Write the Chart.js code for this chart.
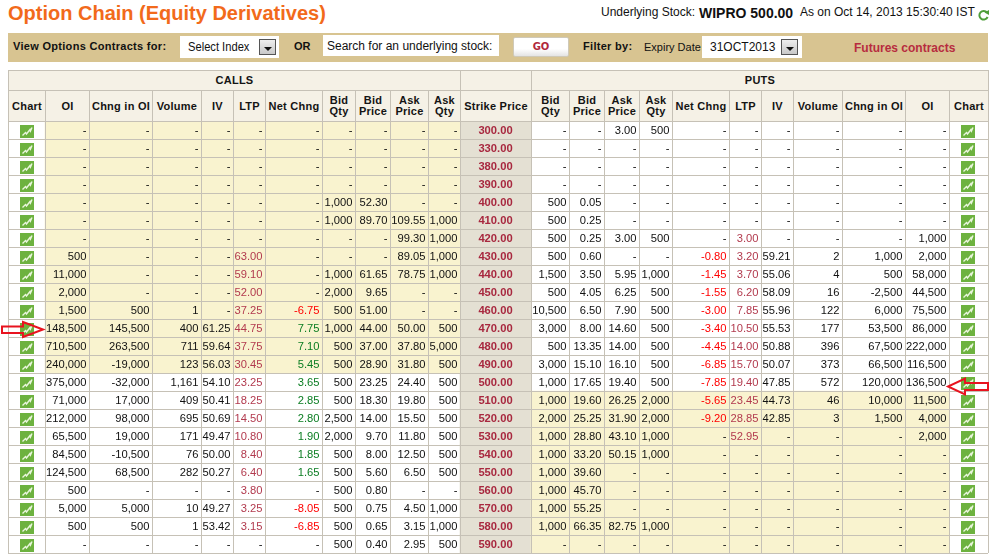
<!DOCTYPE html>
<html lang="en">
<head>
<meta charset="UTF-8" />
<title>Option Chain (Equity Derivatives)</title>
<script src="https://cdn.jsdelivr.net/npm/chart.js"></script>
<style>
  html, body { margin: 0; padding: 0; background: #fff; overflow: hidden; }
  body { width: 992px; height: 558px; position: relative; font-family: "Liberation Sans", Arial, sans-serif; color: #111; }
  .abs { position: absolute; white-space: nowrap; }
  #chartCanvas { position: absolute; left: 0; top: 0; }
  .head { position: absolute; box-sizing: border-box; background: #f5f1e6; border: 1px solid #c6c1b6; margin: 0 -1px -1px 0;
          display: flex; align-items: center; justify-content: center; text-align: center;
          font: bold 11px/11px "Liberation Sans", Arial, sans-serif; letter-spacing: .25px; color: #141414; }
  .box { position: absolute; background: #fff; box-sizing: border-box; }
  .drop { position: absolute; box-sizing: border-box; background: linear-gradient(#eee, #c8c8c8); border: 1px solid #555; }
  .drop:after { content: ""; position: absolute; left: 4px; top: 7px; border: 4px solid transparent; border-top: 4px solid #111; border-bottom: 0; }
</style>
</head>
<body>

<div class="abs" style="left:8px;top:0;font:bold 20px/27px 'Liberation Sans',Arial,sans-serif;color:#f26a1b">Option Chain (Equity Derivatives)</div>
<div class="abs" style="left:601px;top:5px;font-size:12px;line-height:14px">Underlying Stock:</div>
<div class="abs" style="left:699px;top:5px;font-weight:bold;font-size:14px;line-height:16px">WIPRO 500.00</div>
<div class="abs" style="left:800px;top:5px;font-size:12px;line-height:14px">As on Oct 14, 2013 15:30:40 IST</div>
<svg class="abs" style="left:977px;top:8px" width="13" height="14" viewBox="0 0 13 14">
  <path d="M10 4.5 A4.3 4.3 0 1 0 10.6 9" fill="none" stroke="#4f9e3a" stroke-width="2"/>
  <path d="M7.5 4.5 L12 2 L12 7 Z" fill="#4f9e3a"/>
</svg>

<div class="abs" style="left:8px;top:33px;width:980px;height:29px;background:#d8c491"></div>
<div class="abs" style="left:13px;top:39px;font:bold 11px/14px 'Liberation Sans',Arial,sans-serif;letter-spacing:.3px">View Options Contracts for:</div>
<div class="box" style="left:180px;top:36px;width:99px;height:22px"></div>
<div class="abs" style="left:188px;top:40px;font-size:12px;line-height:14px;transform:scaleX(.93);transform-origin:left">Select Index</div>
<div class="drop" style="left:259px;top:39px;width:17px;height:16px"></div>
<div class="abs" style="left:294px;top:39px;font:bold 11px/14px 'Liberation Sans',Arial,sans-serif">OR</div>
<div class="box" style="left:323px;top:35px;width:176px;height:21px"></div>
<div class="abs" style="left:327px;top:39px;font-size:12px;line-height:14px">Search for an underlying stock:</div>
<div class="box" style="left:513px;top:37px;width:56px;height:20px;border-radius:2px;background:linear-gradient(#fff 60%,#e4e4e4);border:1px solid #cfc9b8"></div>
<div class="abs" style="left:513px;top:40px;width:56px;text-align:center;font:bold 10px/14px 'DejaVu Sans',sans-serif;color:#b0283c">GO</div>
<div class="abs" style="left:583px;top:39px;font:bold 11px/14px 'Liberation Sans',Arial,sans-serif;letter-spacing:.3px">Filter by:</div>
<div class="abs" style="left:644px;top:40px;font-size:11px;line-height:14px">Expiry Date</div>
<div class="box" style="left:702px;top:36px;width:100px;height:22px"></div>
<div class="abs" style="left:710px;top:40px;font-size:12px;line-height:14px">31OCT2013</div>
<div class="drop" style="left:781px;top:39px;width:17px;height:16px"></div>
<div class="abs" style="left:854px;top:41px;font:bold 12px/14px 'Liberation Sans',Arial,sans-serif;color:#b72c3f">Futures contracts</div>

<canvas id="chartCanvas" width="992" height="558"></canvas>
<div id="heads"></div>

<svg class="abs" style="left:0;top:0;pointer-events:none" width="992" height="558">
  <path d="M2 326.5 H23 V322 L43 329.5 L23 337 V333 H2 Z" fill="none" stroke="#e8131f" stroke-width="2"/>
  <path d="M988 383 H965 V378.5 L948 386.5 L965 394.5 V390 H988 Z" fill="none" stroke="#e8131f" stroke-width="2"/>
</svg>

<script>
  const n = null;
  const strikes = [300, 330, 380, 390, 400, 410, 420, 430, 440, 450, 460, 470, 480, 490, 500, 510, 520, 530, 540, 550, 560, 570, 580, 590];

  // calls
  const callOI = [n, n, n, n, n, n, n, 500, 11000, 2000, 1500, 148500, 710500, 240000, 375000, 71000, 212000, 65500, 84500, 124500, 500, 5000, 500, n];
  const callChngOI = [n, n, n, n, n, n, n, n, n, n, 500, 145500, 263500, -19000, -32000, 17000, 98000, 19000, -10500, 68500, n, 5000, 500, n];
  const callVolume = [n, n, n, n, n, n, n, n, n, n, 1, 400, 711, 123, 1161, 409, 695, 171, 76, 282, n, 10, 1, n];
  const callIV = [n, n, n, n, n, n, n, n, n, n, n, 61.25, 59.64, 56.03, 54.10, 50.41, 50.69, 49.47, 50.00, 50.27, n, 49.27, 53.42, n];
  const callLTP = [n, n, n, n, n, n, n, 63.00, 59.10, 52.00, 37.25, 44.75, 37.75, 30.45, 23.25, 18.25, 14.50, 10.80, 8.40, 6.40, 3.80, 3.25, 3.15, n];
  const callNetChng = [n, n, n, n, n, n, n, n, n, n, -6.75, 7.75, 7.10, 5.45, 3.65, 2.85, 2.80, 1.90, 1.85, 1.65, n, -8.05, -6.85, n];
  const callBidQty = [n, n, n, n, 1000, 1000, n, n, 1000, 2000, 500, 1000, 500, 500, 500, 500, 2500, 2000, 500, 500, 500, 500, 500, 500];
  const callBidPrice = [n, n, n, n, 52.30, 89.70, n, n, 61.65, 9.65, 51.00, 44.00, 37.00, 28.90, 23.25, 18.30, 14.00, 9.70, 8.00, 5.60, 0.80, 0.75, 0.65, 0.40];
  const callAskPrice = [n, n, n, n, n, 109.55, 99.30, 89.05, 78.75, n, n, 50.00, 37.80, 31.80, 24.40, 19.80, 15.50, 11.80, 12.50, 6.50, n, 4.50, 3.15, 2.95];
  const callAskQty = [n, n, n, n, n, 1000, 1000, 1000, 1000, n, n, 500, 5000, 500, 500, 500, 500, 500, 500, 500, n, 1000, 1000, 500];

  // puts
  const putBidQty = [n, n, n, n, 500, 500, 500, 500, 1500, 500, 10500, 3000, 500, 3000, 1000, 1000, 2000, 1000, 1000, 1000, 1000, 1000, 1000, n];
  const putBidPrice = [n, n, n, n, 0.05, 0.25, 0.25, 0.60, 3.50, 4.05, 6.50, 8.00, 13.35, 15.10, 17.65, 19.60, 25.25, 28.80, 33.20, 39.60, 45.70, 55.25, 66.35, n];
  const putAskPrice = [3.00, n, n, n, n, n, 3.00, n, 5.95, 6.25, 7.90, 14.60, 14.00, 16.10, 19.40, 26.25, 31.90, 43.10, 50.15, n, n, n, 82.75, n];
  const putAskQty = [500, n, n, n, n, n, 500, n, 1000, 500, 500, 500, 500, 500, 500, 2000, 2000, 1000, 1000, n, n, n, 1000, n];
  const putNetChng = [n, n, n, n, n, n, n, -0.80, -1.45, -1.55, -3.00, -3.40, -4.45, -6.85, -7.85, -5.65, -9.20, n, n, n, n, n, n, n];
  const putLTP = [n, n, n, n, n, n, 3.00, 3.20, 3.70, 6.20, 7.85, 10.50, 14.00, 15.70, 19.40, 23.45, 28.85, 52.95, n, n, n, n, n, n];
  const putIV = [n, n, n, n, n, n, n, 59.21, 55.06, 58.09, 55.96, 55.53, 50.88, 50.07, 47.85, 44.73, 42.85, n, n, n, n, n, n, n];
  const putVolume = [n, n, n, n, n, n, n, 2, 4, 16, 122, 177, 396, 373, 572, 46, 3, n, n, n, n, n, n, n];
  const putChngOI = [n, n, n, n, n, n, n, 1000, 500, -2500, 6000, 53500, 67500, 66500, 120000, 10000, 1500, n, n, n, n, n, n, n];
  const putOI = [n, n, n, n, n, n, 1000, 2000, 58000, 44500, 75500, 86000, 222000, 116500, 136500, 11500, 4000, 2000, n, n, n, n, n, n];

  const underlying = 500;

  // column headers, and where each column starts on the x axis
  const headers = ['Chart', 'OI', 'Chng in OI', 'Volume', 'IV', 'LTP', 'Net Chng', 'Bid<br>Qty', 'Bid<br>Price', 'Ask<br>Price', 'Ask<br>Qty', 'Strike Price',
    'Bid<br>Qty', 'Bid<br>Price', 'Ask<br>Price', 'Ask<br>Qty', 'Net Chng', 'LTP', 'IV', 'Volume', 'Chng in OI', 'OI', 'Chart'];
  const colEdges = [8, 45, 89, 152, 201, 233, 265, 322, 355, 390, 428, 460, 531, 569, 604, 639, 672, 729, 761, 793, 842, 905, 949, 988];

  const qty = v => v.toLocaleString('en-US');
  const price = v => v.toFixed(2);
  const changeColor = v => v < 0 ? '#ff0000' : '#0b7d22';

  // [values, formatter, colour] for every text column, keyed by its index in colEdges
  const textCols = {
    1: [callOI, qty], 2: [callChngOI, qty], 3: [callVolume, qty], 4: [callIV, price], 5: [callLTP, price, () => '#b23a4e'],
    6: [callNetChng, price, changeColor], 7: [callBidQty, qty], 8: [callBidPrice, price], 9: [callAskPrice, price], 10: [callAskQty, qty],
    12: [putBidQty, qty], 13: [putBidPrice, price], 14: [putAskPrice, price], 15: [putAskQty, qty], 16: [putNetChng, price, changeColor],
    17: [putLTP, price, () => '#b23a4e'], 18: [putIV, price], 19: [putVolume, qty], 20: [putChngOI, qty], 21: [putOI, qty]
  };

  // header cells
  const headsEl = document.getElementById('heads');
  function headCell(html, x0, x1, y0, y1) {
    const d = document.createElement('div');
    d.className = 'head';
    d.style.cssText = `left:${x0}px;top:${y0}px;width:${x1 - x0 + 1}px;height:${y1 - y0 + 1}px`;
    d.innerHTML = html;
    headsEl.appendChild(d);
  }
  headCell('CALLS', colEdges[0], colEdges[11], 70, 90);
  headCell('', colEdges[11], colEdges[12], 70, 90);
  headCell('PUTS', colEdges[12], colEdges[23], 70, 90);
  headers.forEach((h, i) => headCell(h, colEdges[i], colEdges[i + 1], 90, 121));

  // chart button glyph, used as the point style (sits 1px low in its row)
  const icon = document.createElement('canvas');
  icon.width = 14; icon.height = 16;
  const ic = icon.getContext('2d');
  ic.fillStyle = '#6db23f';
  ic.fillRect(0, 3, 14, 13);
  ic.strokeStyle = '#e9f5dc';
  ic.lineWidth = 1.4;
  ic.beginPath();
  ic.moveTo(2.5, 13.5); ic.lineTo(5.5, 10.5); ic.lineTo(6.5, 12); ic.lineTo(10, 7.5); ic.lineTo(10.5, 9); ic.lineTo(12, 5.5);
  ic.stroke();

  const labels = strikes.map(String);

  const cellText = {
    id: 'cellText',
    afterDatasetsDraw(chart) {
      const c = chart.ctx, xs = chart.scales.x, ys = chart.scales.y;
      c.save();
      c.textBaseline = 'middle';
      c.font = '11.2px "Liberation Sans", Arial, sans-serif';
      c.textAlign = 'right';
      Object.keys(textCols).forEach(k => {
        const [vals, fmt, col] = textCols[k];
        const right = xs.getPixelForValue(colEdges[+k + 1]) - 2.5;
        vals.forEach((v, i) => {
          c.fillStyle = v === null ? '#111' : (col ? col(v) : '#111');
          c.fillText(v === null ? '-' : fmt(v), right, ys.getPixelForValue(i) + 0.5);
        });
      });
      c.font = 'bold 11.2px "Liberation Sans", Arial, sans-serif';
      c.textAlign = 'center';
      c.fillStyle = '#a8283f';
      const mid = xs.getPixelForValue((colEdges[11] + colEdges[12]) / 2);
      strikes.forEach((s, i) => c.fillText(s.toFixed(2), mid, ys.getPixelForValue(i) + 0.5));
      c.restore();
    }
  };

  new Chart(document.getElementById('chartCanvas'), {
    type: 'bar',
    data: {
      labels: labels,
      datasets: [
        // in the money shading and the strike column
        { indexAxis: 'y', label: 'Calls ITM', backgroundColor: '#f9f3cf', grouped: false, barPercentage: 1, categoryPercentage: 1,
          data: strikes.map(s => s < underlying ? [colEdges[1], colEdges[11]] : null) },
        { indexAxis: 'y', label: 'Puts ITM', backgroundColor: '#f9f3cf', grouped: false, barPercentage: 1, categoryPercentage: 1,
          data: strikes.map(s => s > underlying ? [colEdges[12], colEdges[22]] : null) },
        { indexAxis: 'y', label: 'Strike', backgroundColor: '#e4e0d3', grouped: false, barPercentage: 1, categoryPercentage: 1,
          data: strikes.map(() => [colEdges[11], colEdges[12]]) },
        // small radius keeps the layout from adding overflow padding, the glyph keeps its own size
        { type: 'scatter', label: 'Chart', pointStyle: icon, pointRadius: 2, pointHoverRadius: 2, pointBorderWidth: 0,
          data: labels.flatMap(l => [{ x: (colEdges[0] + colEdges[1]) / 2 + 0.5, y: l }, { x: (colEdges[22] + colEdges[23]) / 2 - 0.5, y: l }]) }
      ]
    },
    options: {
      responsive: false,
      animation: false,
      events: [],
      layout: { padding: { left: 8, right: 4, top: 121, bottom: 5 } },
      plugins: { legend: { display: false }, tooltip: { enabled: false } },
      scales: {
        x: {
          type: 'linear', min: colEdges[0], max: colEdges[23], offset: false,
          afterBuildTicks: axis => { axis.ticks = colEdges.map(v => ({ value: v })); },
          ticks: { display: false },
          border: { display: false },
          grid: { color: '#c6c1b6', drawTicks: false, offset: false, z: 1 }
        },
        y: {
          type: 'category', offset: true,
          ticks: { display: false },
          border: { display: false },
          grid: { color: '#c6c1b6', drawTicks: false, offset: true, z: 1 }
        }
      }
    },
    plugins: [cellText]
  });
</script>
</body>
</html>
